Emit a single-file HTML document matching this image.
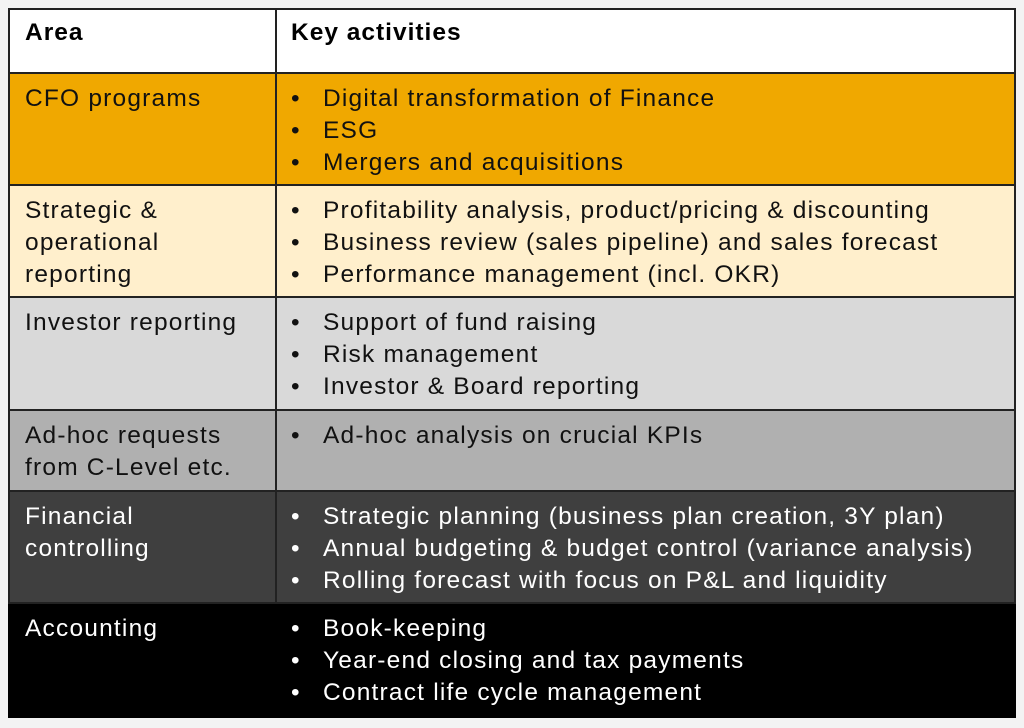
<!DOCTYPE html>
<html><head><meta charset="utf-8"><style>
body{margin:0;width:1024px;height:728px;background:#f3f3f3;font-family:"Liberation Sans",sans-serif;overflow:hidden;position:relative}
.row{position:absolute;left:8px;width:1008px;box-sizing:border-box;border:2px solid #222;border-top:none}
.c1,.c2{position:absolute;top:0;bottom:0;font-size:24.5px;line-height:32px;letter-spacing:1.2px}
.c1{left:0;width:267px;border-right:2px solid #222;padding:9px 0 0 15px;box-sizing:border-box}
.c2{left:267px;right:0;padding:9px 0 0 14px;box-sizing:border-box}
ul{margin:0;padding:0;list-style:none}
li{position:relative;padding-left:32px;white-space:nowrap}
li:before{content:"•";position:absolute;left:0}
.hd{font-weight:bold;letter-spacing:1px}
</style></head><body>
<div class="row" style="top:8px;height:66px;background:#fff;border-top:2px solid #222">
 <div class="c1 hd" style="padding-top:7px">Area</div>
 <div class="c2 hd" style="padding-top:7px">Key activities</div>
</div>
<div class="row" style="top:74px;height:112px;background:#f0a800;color:#111">
 <div class="c1">CFO programs</div>
 <div class="c2"><ul><li>Digital transformation of Finance</li><li>ESG</li><li>Mergers and acquisitions</li></ul></div>
</div>
<div class="row" style="top:186px;height:112px;background:#ffefcc;color:#111">
 <div class="c1">Strategic &amp;<br>operational<br>reporting</div>
 <div class="c2"><ul><li>Profitability analysis, product/pricing &amp; discounting</li><li>Business review (sales pipeline) and sales forecast</li><li>Performance management (incl. OKR)</li></ul></div>
</div>
<div class="row" style="top:298px;height:113px;background:#d9d9d9;color:#111">
 <div class="c1">Investor reporting</div>
 <div class="c2"><ul><li>Support of fund raising</li><li>Risk management</li><li>Investor &amp; Board reporting</li></ul></div>
</div>
<div class="row" style="top:411px;height:81px;background:#b0b0b0;color:#111">
 <div class="c1">Ad-hoc requests<br>from C-Level etc.</div>
 <div class="c2"><ul><li>Ad-hoc analysis on crucial KPIs</li></ul></div>
</div>
<div class="row" style="top:492px;height:112px;background:#3f3f3f;color:#fff">
 <div class="c1">Financial<br>controlling</div>
 <div class="c2"><ul><li>Strategic planning (business plan creation, 3Y plan)</li><li>Annual budgeting &amp; budget control (variance analysis)</li><li>Rolling forecast with focus on P&amp;L and liquidity</li></ul></div>
</div>
<div class="row" style="top:604px;height:114px;background:#000;color:#fff;border:none">
 <div class="c1" style="border-right:none;padding-left:17px">Accounting</div>
 <div class="c2" style="padding-left:16px"><ul><li>Book-keeping</li><li>Year-end closing and tax payments</li><li>Contract life cycle management</li></ul></div>
</div>
</body></html>
